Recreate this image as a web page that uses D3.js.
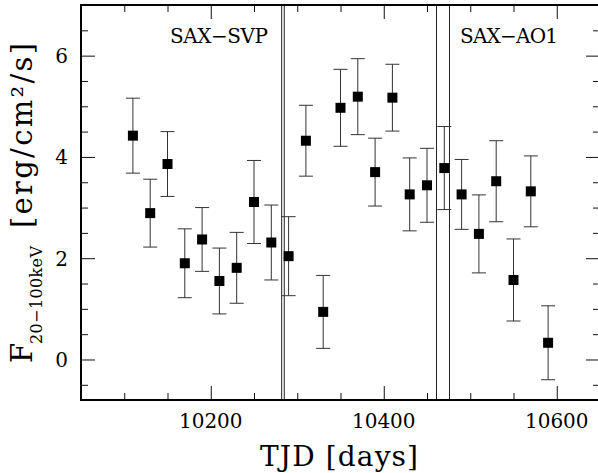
<!DOCTYPE html>
<html>
<head>
<meta charset="utf-8">
<script src="https://cdn.jsdelivr.net/npm/d3@7"></script>
<style>
  body { margin: 0; background: #fff; }
  svg { display: block; font-family: "DejaVu Serif", serif; }
</style>
</head>
<body>
<div id="container"></div>
<script>
// light curve, 20 day bins
const tjd = [10110, 10130, 10150, 10170, 10190, 10210, 10230, 10250, 10270, 10290,
    10310, 10330, 10350, 10370, 10390, 10410, 10430, 10450, 10470, 10490,
    10510, 10530, 10550, 10570, 10590]
const flux = [4.42, 2.89, 3.86, 1.90, 2.37, 1.55, 1.81, 3.11, 2.31, 2.04,
    4.32, 0.94, 4.97, 5.19, 3.70, 5.17, 3.26, 3.44, 3.78, 3.26,
    2.48, 3.52, 1.57, 3.32, 0.33]
const err = [0.74, 0.67, 0.64, 0.68, 0.63, 0.65, 0.70, 0.82, 0.74, 0.78,
    0.70, 0.72, 0.76, 0.75, 0.67, 0.66, 0.72, 0.73, 0.82, 0.69,
    0.77, 0.80, 0.81, 0.70, 0.73]

// observation period boundaries
const boundaries = [10282, 10285, 10461, 10476]
const periods = ["SAX\u2212SVP", "SAX\u2212AO1"]

const xMajor = [10200, 10400, 10600]
const yMajor = [0, 2, 4, 6]

const w = 598
const h = 473
const padL = 81, padR = 600, padT = 5, padB = 400

const x = d3.scaleLinear().domain([10050, 10650]).range([padL, padR])
const y = d3.scaleLinear().domain([-0.8, 7]).range([padB, padT])

const svg = d3.select("#container")
    .append("svg")
    .attr("width", w)
    .attr("height", h)

const xMinor = d3.range(10050, 10651, 50).filter(v => !xMajor.includes(v))
const yMinor = d3.range(-0.5, 7.01, 0.5).filter(v => !yMajor.includes(v))

function ticks(axis, vals, size) {
    return g => g.call(axis.tickValues(vals).tickSize(size).tickFormat(""))
        .call(g => g.select(".domain").remove())
        .call(g => g.selectAll("line").attr("stroke", "#111"))
}

// ticks on all four sides, pointing inwards
svg.append("g").attr("transform", `translate(0,${padB})`).call(ticks(d3.axisBottom(x), xMajor, -14))
svg.append("g").attr("transform", `translate(0,${padB})`).call(ticks(d3.axisBottom(x), xMinor, -7))
svg.append("g").attr("transform", `translate(0,${padT})`).call(ticks(d3.axisTop(x), xMajor, -14))
svg.append("g").attr("transform", `translate(0,${padT})`).call(ticks(d3.axisTop(x), xMinor, -7))
svg.append("g").attr("transform", `translate(${padL},0)`).call(ticks(d3.axisLeft(y), yMajor, -14))
svg.append("g").attr("transform", `translate(${padL},0)`).call(ticks(d3.axisLeft(y), yMinor, -7))
svg.append("g").attr("transform", `translate(${padR},0)`).call(ticks(d3.axisRight(y), yMajor, -14))
svg.append("g").attr("transform", `translate(${padR},0)`).call(ticks(d3.axisRight(y), yMinor, -7))

// tick labels
svg.append("g").selectAll("text")
    .data(xMajor)
    .enter()
    .append("text")
    .attr("x", d => x(d))
    .attr("y", 428)
    .attr("text-anchor", "middle")
    .attr("font-size", 20)
    .text(d => d)

svg.append("g").selectAll("text")
    .data(yMajor)
    .enter()
    .append("text")
    .attr("x", 68)
    .attr("y", d => y(d) + 7.5)
    .attr("text-anchor", "end")
    .attr("font-size", 20)
    .text(d => d)

// period boundaries
svg.append("g").selectAll("line")
    .data(boundaries)
    .enter()
    .append("line")
    .attr("x1", d => x(d)).attr("x2", d => x(d))
    .attr("y1", padT).attr("y2", padB)
    .attr("stroke", "#222")
    .attr("stroke-width", 1)

svg.append("text")
    .attr("x", 170).attr("y", 43)
    .attr("font-size", 20)
    .attr("textLength", 98)
    .text(periods[0])
svg.append("text")
    .attr("x", 460).attr("y", 43)
    .attr("font-size", 20)
    .attr("textLength", 98)
    .text(periods[1])

// error bars
const bars = svg.append("g").attr("stroke", "#333").attr("stroke-width", 1)
tjd.forEach((t, i) => {
    const cx = x(t)
    const y1 = y(flux[i] + err[i]), y0 = y(flux[i] - err[i])
    bars.append("line").attr("x1", cx).attr("x2", cx).attr("y1", y1).attr("y2", y0)
    bars.append("line").attr("x1", cx - 7).attr("x2", cx + 7).attr("y1", y1).attr("y2", y1)
    bars.append("line").attr("x1", cx - 7).attr("x2", cx + 7).attr("y1", y0).attr("y2", y0)
})

svg.append("g").selectAll("rect")
    .data(tjd)
    .enter()
    .append("rect")
    .attr("x", d => x(d) - 5)
    .attr("y", (d, i) => y(flux[i]) - 5)
    .attr("width", 10)
    .attr("height", 10)
    .attr("fill", "#000")

// frame
svg.append("rect")
    .attr("x", padL).attr("y", padT)
    .attr("width", padR - padL).attr("height", padB - padT)
    .attr("fill", "none")
    .attr("stroke", "#000")
    .attr("stroke-width", 2)

// axis titles
svg.append("text")
    .attr("x", 260).attr("y", 466)
    .attr("font-size", 28)
    .attr("textLength", 158)
    .text("TJD [days]")

const ylab = svg.append("g").attr("transform", "translate(32,0) rotate(-90)")
ylab.append("text").attr("x", -363).attr("y", 0).attr("font-size", 29).text("F")
ylab.append("text").attr("x", -344).attr("y", 10).attr("font-size", 16)
    .attr("textLength", 98).text("20\u2212100keV")
ylab.append("text").attr("x", -228).attr("y", 0).attr("font-size", 29)
    .attr("textLength", 185).text("[erg/cm\u00b2/s]")
</script>
</body>
</html>
